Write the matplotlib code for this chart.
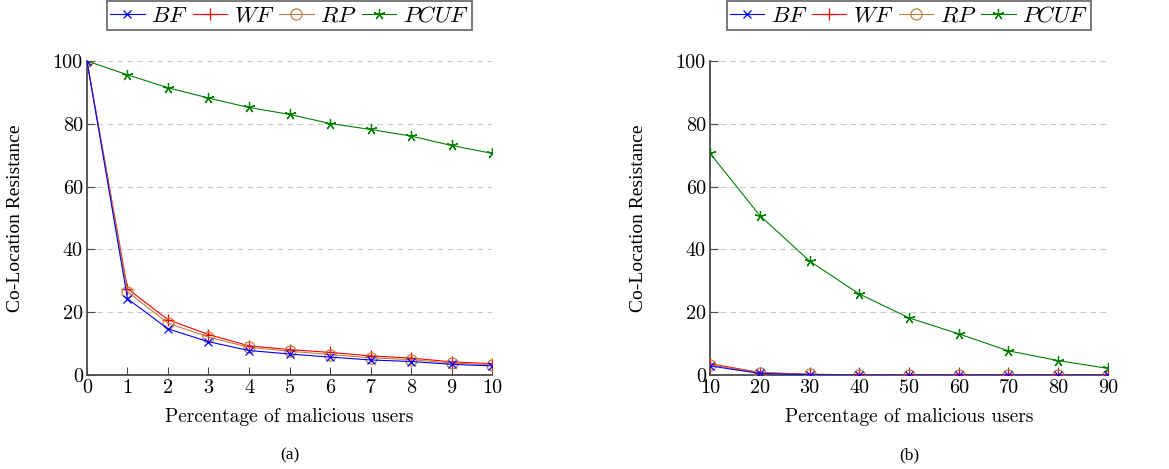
from matplotlib import pyplot as plt

#data
x_a = [0, 1, 2, 3, 4, 5, 6, 7, 8, 9, 10]
bf_a = [100, 24.3, 14.7, 10.6, 7.8, 6.7, 5.7, 4.8, 4.3, 3.4, 2.9]
wf_a = [100, 27.5, 17.6, 12.9, 9.3, 8.1, 7.2, 6.1, 5.4, 4.2, 3.6]
rp_a = [100, 26.5, 16.5, 12.1, 8.8, 7.6, 6.5, 5.5, 4.9, 3.8, 3.3]
pcuf_a = [100, 95.6, 91.5, 88.2, 85.2, 83.0, 80.1, 78.2, 76.1, 73.1, 70.6]

x_b = [10, 20, 30, 40, 50, 60, 70, 80, 90]
bf_b = [2.9, 0.5, 0.1, 0.02, 0, 0, 0, 0, 0]
wf_b = [3.6, 0.8, 0.25, 0.05, 0.01, 0, 0, 0, 0]
rp_b = [3.3, 0.7, 0.2, 0.04, 0.01, 0, 0, 0, 0]
pcuf_b = [70.6, 50.8, 36.3, 25.8, 18.2, 13.1, 7.7, 4.6, 2.1]

labels = ['$BF$', '$WF$', '$RP$', '$PCUF$']
xticks_a = x_a
xticks_b = x_b
yticks = [0, 20, 40, 60, 80, 100]

plt.rcParams['mathtext.fontset'] = 'cm'
plt.rcParams['axes.unicode_minus'] = False

brown = (0.75, 0.5, 0.25)
green = (0, 0.5, 0)
axcol = '#4a4a4a'

fig = plt.figure(figsize=(11.69, 4.69), dpi=100)
ax1 = fig.add_axes([0.0744, 0.2004, 0.3465, 0.6695])
ax2 = fig.add_axes([0.6074, 0.2004, 0.3404, 0.6695])


def draw(ax, x, bf, wf, rp, pcuf, xticks, tag):
    ax.plot(x, bf, color='blue', marker='x', ms=5.5, lw=0.8, mew=0.9, label=labels[0], zorder=4)
    ax.plot(x, wf, color='red', marker='+', ms=8, lw=0.8, mew=0.9, label=labels[1], zorder=3)
    ax.plot(x, rp, color=brown, marker='o', ms=8, lw=0.8, mew=0.9, mfc='none', label=labels[2], zorder=3)
    ax.plot(x, pcuf, color=green, marker=(5, 2, 0), ms=8, lw=0.8, mew=0.9, label=labels[3], zorder=3)
    ax.set_xlim(x[0], x[-1])
    ax.set_ylim(0, 100)
    ax.set_xticks(xticks)
    ax.set_yticks(yticks)
    for y in yticks[1:]:
        ax.axhline(y, color='#c8c8c8', lw=0.8, ls=(0, (5, 4)), zorder=1)
    for s in ['top', 'right']:
        ax.spines[s].set_visible(False)
    for s in ['left', 'bottom']:
        ax.spines[s].set_color(axcol)
        ax.spines[s].set_linewidth(1.3)
    ax.tick_params(direction='in', length=6, color=axcol, width=0.8, labelsize=14.5, pad=3)
    for t in ax.get_xticklabels() + ax.get_yticklabels():
        t.set_fontfamily('cmr10')
    ax.set_xlabel('Percentage of malicious users', fontfamily='cmr10', fontsize=14, labelpad=8)
    ax.set_ylabel('Co-Location Resistance', fontfamily='Liberation Serif', fontsize=14, labelpad=21)
    leg = ax.legend(loc='lower center', bbox_to_anchor=(0.5, 1.1), ncol=4, fontsize=16.5,
                    frameon=True, fancybox=False, edgecolor=axcol, handlelength=1.5,
                    handletextpad=0.3, columnspacing=0.2, borderpad=0.12, borderaxespad=0)
    leg.get_frame().set_linewidth(1.3)
    ax.text(0.5, -0.255, tag, transform=ax.transAxes, ha='center', va='center',
            fontfamily='Liberation Serif', fontsize=12.5)


draw(ax1, x_a, bf_a, wf_a, rp_a, pcuf_a, xticks_a, '(a)')
draw(ax2, x_b, bf_b, wf_b, rp_b, pcuf_b, xticks_b, '(b)')

plt.savefig('out.png', dpi=100)
